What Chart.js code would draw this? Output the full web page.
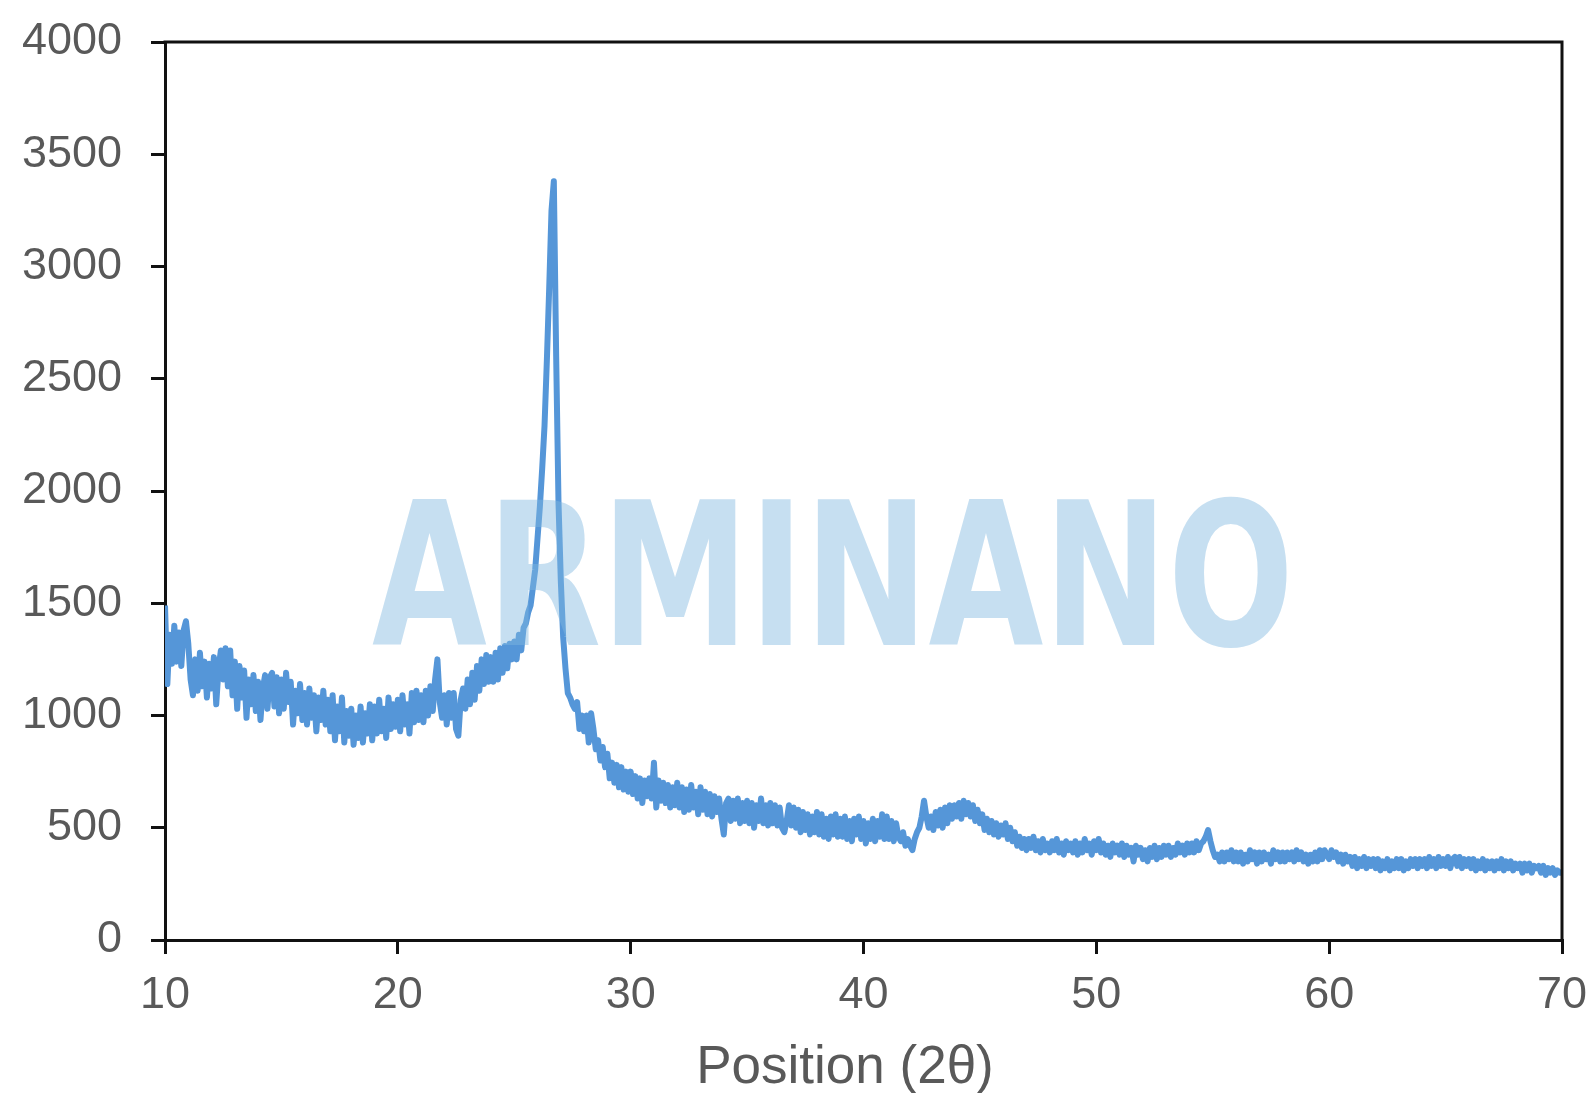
<!DOCTYPE html>
<html>
<head>
<meta charset="utf-8">
<script src="https://cdn.jsdelivr.net/npm/chart.js@4.4.1/dist/chart.umd.min.js"></script>
<style>
  html, body { margin: 0; padding: 0; background: #fff; }
  canvas { display: block; }
</style>
</head>
<body>
<canvas id="xrdChart" width="1592" height="1093"></canvas>
<script>
// 2theta sampling of the scan
var angleStart = 10;
var angleStep = 0.1;

// intensity, one row per degree
var intensityLow = [ // 10.0 - 27.9
  1490, 1140, 1360, 1230, 1400, 1240, 1370, 1220, 1380, 1420,
  1320, 1160, 1090, 1250, 1110, 1280, 1130, 1240, 1080, 1230,
  1120, 1260, 1050, 1210, 1290, 1160, 1300, 1130, 1290, 1090,
  1240, 1030, 1220, 1080, 1200, 990, 1160, 1050, 1180, 1020,
  1150, 980, 1120, 1180, 1030, 1170, 1190, 1040, 1170, 1010,
  1160, 1030, 1190, 1060, 1150, 960, 1110, 1010, 1140, 980,
  1100, 960, 1120, 990, 1090, 930, 1080, 980, 1110, 960,
  1070, 930, 1090, 890, 1040, 930, 1080, 880, 1020, 910,
  1030, 870, 1000, 900, 1040, 880, 1010, 920, 1050, 890,
  1040, 920, 1070, 930, 1030, 900, 1080, 940, 1050, 950,
  1070, 930, 1090, 960, 1050, 920, 1100, 970, 1110, 980,
  1090, 970, 1110, 1000, 1130, 1020, 1160, 1250, 1060, 990,
  1090, 960, 1100, 990, 1100, 940, 910, 1070, 1120, 1030,
  1160, 1050, 1190, 1070, 1220, 1110, 1250, 1140, 1270, 1150,
  1260, 1150, 1280, 1160, 1300, 1190, 1310, 1210, 1320, 1250,
  1330, 1250, 1360, 1290, 1390, 1410, 1460, 1490, 1570, 1650,
  1790, 1930, 2100, 2290, 2580, 2900, 3250, 3380, 2600, 1950,
  1600, 1350, 1210, 1100, 1080, 1050, 1030, 1060, 940, 1000
];
var intensityMid = [ // 28.0 - 49.9
  930, 1000, 880, 1010, 940, 850, 890, 800, 860, 770,
  830, 720, 790, 700, 780, 680, 770, 670, 750, 660,
  750, 650, 730, 630, 720, 610, 710, 640, 720, 630,
  790, 590, 710, 620, 700, 610, 690, 590, 680, 600,
  700, 590, 680, 570, 670, 580, 690, 590, 660, 560,
  680, 580, 660, 560, 650, 550, 640, 570, 630, 540,
  470, 610, 630, 530, 620, 540, 630, 520, 610, 530,
  620, 520, 610, 500, 600, 530, 630, 520, 600, 510,
  610, 520, 600, 510, 590, 500, 480, 530, 600, 510,
  590, 500, 580, 480, 570, 490, 560, 470, 550, 480,
  570, 470, 560, 460, 540, 450, 550, 470, 560, 460,
  540, 460, 550, 450, 530, 440, 540, 470, 550, 450,
  530, 430, 520, 450, 540, 440, 530, 460, 560, 450,
  550, 450, 530, 440, 520, 460, 440, 480, 420, 450,
  420, 400, 450, 480, 500, 550, 620, 550, 500, 550,
  490, 570, 510, 580, 500, 590, 520, 600, 540, 600,
  550, 610, 540, 620, 560, 610, 550, 600, 530, 580,
  520, 560, 490, 540, 480, 530, 470, 520, 460, 510,
  470, 520, 450, 500, 440, 480, 420, 460, 410, 450,
  400, 450, 410, 460, 400, 440, 390, 450, 400, 430,
  390, 440, 400, 450, 390, 430, 380, 440, 400, 430,
  390, 440, 380, 430, 390, 450, 400, 430, 380, 440
];
var intensityHigh = [ // 50.0 - 70.0
  400, 450, 390, 430, 380, 420, 370, 430, 390, 420,
  380, 430, 370, 420, 380, 410, 350, 420, 380, 410,
  360, 400, 350, 410, 370, 420, 360, 410, 370, 420,
  380, 420, 370, 410, 380, 430, 390, 420, 380, 430,
  390, 430, 390, 440, 400, 430, 440, 460, 490, 440,
  400, 370, 380, 350, 390, 350, 390, 360, 400, 350,
  390, 350, 390, 340, 380, 350, 400, 360, 390, 340,
  390, 350, 390, 360, 380, 340, 400, 360, 390, 350,
  390, 350, 390, 360, 390, 350, 400, 360, 390, 350,
  380, 340, 380, 350, 390, 350, 400, 360, 400, 380,
  360, 400, 370, 390, 350, 380, 340, 380, 350, 370,
  330, 370, 320, 360, 330, 370, 320, 360, 330, 360,
  320, 360, 310, 350, 320, 360, 310, 350, 320, 360,
  320, 360, 310, 350, 320, 360, 330, 360, 320, 360,
  330, 360, 320, 370, 330, 360, 320, 370, 330, 360,
  330, 370, 320, 360, 370, 330, 370, 320, 360, 330,
  360, 320, 360, 310, 350, 320, 360, 310, 350, 320,
  350, 310, 350, 320, 360, 310, 350, 320, 350, 310,
  340, 320, 340, 300, 340, 310, 340, 300, 330, 320,
  330, 300, 330, 290, 320, 300, 320, 290, 310, 300,
  300
];

var xTickValues = [10, 20, 30, 40, 50, 60, 70];
var yTickValues = [0, 500, 1000, 1500, 2000, 2500, 3000, 3500, 4000];
var xAxisTitle = 'Position (2θ)';
var watermarkText = 'ARMINANO';

var lineColor = '#5596d8';
var axisColor = '#111111';
var labelColor = '#595959';

var intensity = intensityLow.concat(intensityMid, intensityHigh);
var points = intensity.map(function (v, i) {
    return { x: +(angleStart + i * angleStep).toFixed(1), y: v };
});

// watermark, top/right frame and the axis title
var decorPlugin = {
    id: 'decor',
    afterDatasetsDraw: function (chart) {
        var ctx = chart.ctx, a = chart.chartArea;
        ctx.save();
        ctx.font = 'bold 200px "DejaVu Sans"';
        var w = ctx.measureText(watermarkText).width;
        ctx.translate(372, 645);
        ctx.scale(922 / w, 1);
        ctx.fillStyle = 'rgba(129,184,224,0.45)';
        ctx.textBaseline = 'alphabetic';
        ctx.fillText(watermarkText, 0, 0);
        ctx.restore();

        ctx.save();
        ctx.strokeStyle = axisColor;
        ctx.lineWidth = 3;
        ctx.beginPath();
        ctx.moveTo(a.left - 1.5, a.top);
        ctx.lineTo(a.right, a.top);
        ctx.lineTo(a.right, a.bottom);
        ctx.stroke();
        ctx.restore();
    },
    afterDraw: function (chart) {
        var ctx = chart.ctx;
        ctx.save();
        ctx.font = '53px "Liberation Sans", Arial, sans-serif';
        ctx.fillStyle = labelColor;
        ctx.textAlign = 'center';
        ctx.textBaseline = 'alphabetic';
        ctx.fillText(xAxisTitle, 845, 1083);
        ctx.restore();
    }
};

var plainLabel = function (v) { return String(v); };

var ctx = document.getElementById('xrdChart').getContext('2d');
var myChart = new Chart(ctx, {
    type: 'line',
    data: {
        datasets: [{
            label: 'XRD',
            data: points,
            borderColor: lineColor,
            borderWidth: 6,
            pointRadius: 0,
            tension: 0,
            borderJoinStyle: 'round',
            fill: false
        }]
    },
    options: {
        responsive: false,
        animation: false,
        layout: { padding: { top: 42, right: 30, bottom: 0, left: 0 } },
        plugins: {
            legend: { display: false },
            tooltip: { enabled: false }
        },
        scales: {
            x: {
                type: 'linear',
                min: 10,
                max: 70,
                afterBuildTicks: function (scale) {
                    scale.ticks = xTickValues.map(function (v) { return { value: v }; });
                },
                afterFit: function (scale) {
                    scale.height = 153;
                    scale.paddingLeft = 0;
                    scale.paddingRight = 0;
                },
                grid: {
                    drawOnChartArea: false,
                    drawTicks: true,
                    tickLength: 14,
                    color: axisColor,
                    lineWidth: 3
                },
                border: { display: true, color: axisColor, width: 3 },
                ticks: {
                    padding: 15,
                    maxRotation: 0,
                    color: labelColor,
                    callback: plainLabel,
                    font: { family: '"Liberation Sans", Arial, sans-serif', size: 45 }
                }
            },
            y: {
                min: 0,
                max: 4000,
                afterBuildTicks: function (scale) {
                    scale.ticks = yTickValues.map(function (v) { return { value: v }; });
                },
                afterFit: function (scale) {
                    scale.width = 165;
                    scale.paddingTop = 0;
                    scale.paddingBottom = 0;
                },
                grid: {
                    drawOnChartArea: false,
                    drawTicks: true,
                    tickLength: 14,
                    color: axisColor,
                    lineWidth: 3
                },
                border: { display: true, color: axisColor, width: 3 },
                ticks: {
                    padding: 29,
                    color: labelColor,
                    callback: plainLabel,
                    font: { family: '"Liberation Sans", Arial, sans-serif', size: 45 }
                }
            }
        }
    },
    plugins: [decorPlugin]
});
</script>
</body>
</html>
